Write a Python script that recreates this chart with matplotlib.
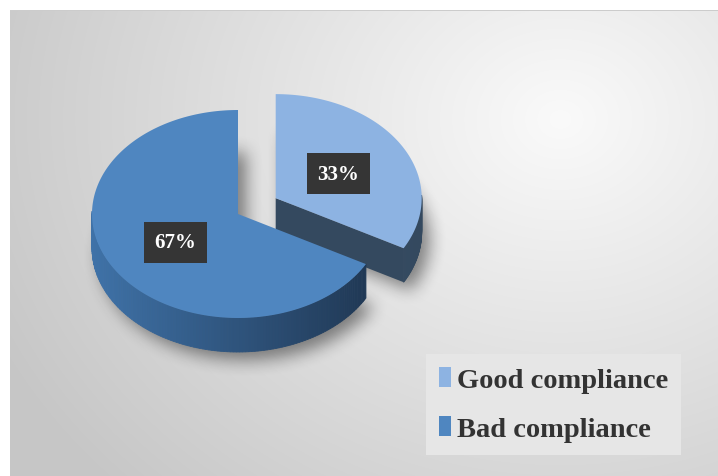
import numpy as np
import matplotlib.pyplot as plt
from matplotlib.patches import Polygon, Patch
from matplotlib.path import Path
from matplotlib.colors import to_rgb

# data
categories = ['Good compliance', 'Bad compliance']
shares = [33, 67]
labels = ['33%', '67%']
top_colors = ['#8db3e2', '#4f86c0']
side_dark = ['#34495f', '#1e3550']
side_light = ['#3e5670', '#3f72a8']

W, H = 718, 477
fig = plt.figure(figsize=(W / 100, H / 100), dpi=100)
ax = fig.add_axes([0, 0, 1, 1])
ax.set_xlim(0, W)
ax.set_ylim(H, 0)
ax.axis('off')

# background: white margin + grey radial gradient
yy, xx = np.mgrid[0:H, 0:W]
d = np.hypot((xx - 560) / 620, (yy - 120) / 520)
g = np.clip(0.98 - 0.2 * d, 0.78, 0.98)
bg = np.dstack([g, g, g])
bg[:11, :] = 1.0
bg[:, :10] = 1.0
bg[11, 10:] = 0.8
ax.imshow(bg, extent=[0, W, H, 0], zorder=0, interpolation='bilinear')

# pie geometry
cx, cy = 238, 215
a, b = 146, 104
depth = 34
explode = [0.3, 0.0]


def pt(x0, y0, th, r=1.0):
    return x0 + r * a * np.cos(th), y0 - r * b * np.sin(th)


def mix(c1, c2, t):
    c1, c2 = np.array(to_rgb(c1)), np.array(to_rgb(c2))
    return tuple(c1 + (c2 - c1) * t)


def blur(img, r):
    for axis in (0, 1):
        c = np.cumsum(np.pad(img, [(r + 1, r) if k == axis else (0, 0) for k in (0, 1)], mode='edge'), axis=axis)
        if axis == 0:
            img = (c[2 * r + 1:] - c[:-2 * r - 1]) / (2 * r + 1)
        else:
            img = (c[:, 2 * r + 1:] - c[:, :-2 * r - 1]) / (2 * r + 1)
    return img


total = sum(shares)
start = 90.0
slices = []
for s in shares:
    t1 = start
    t0 = start - 360.0 * s / total
    slices.append((t0, t1))
    start = t0

geo = []
for i, (t0, t1) in enumerate(slices):
    mid = np.radians((t0 + t1) / 2)
    x0 = cx + explode[i] * a * np.cos(mid)
    y0 = cy - explode[i] * b * np.sin(mid)
    th = np.radians(np.linspace(t0, t1, 200))
    geo.append((x0, y0, th, mid))

# soft shadow: blurred silhouette of the pie bottoms, shifted down-right
mask = np.zeros((H, W))
pts = np.column_stack([xx.ravel() + 0.5, yy.ravel() + 0.5])
for x0, y0, th, mid in geo:
    xs, ys = pt(x0, y0, th)
    poly = np.column_stack([np.r_[x0, xs], np.r_[y0, ys]]) + [8, depth + 8]
    mask = np.maximum(mask, Path(poly).contains_points(pts).reshape(H, W))
mask = blur(blur(mask, 9), 9)
shadow = np.zeros((H, W, 4))
shadow[..., 3] = mask * 0.45
ax.imshow(shadow, extent=[0, W, H, 0], zorder=1, interpolation='bilinear')

for i, (x0, y0, th, mid) in enumerate(geo):
    t0 = slices[i][0]
    z = 3 + i * 3

    # radial cut face at t0 (visible when facing the viewer)
    e = np.radians(t0)
    if np.cos(e) > 0 and np.sin(e) < 0:
        ex, ey = pt(x0, y0, e)
        face = [(x0, y0), (ex, ey), (ex, ey + depth), (x0, y0 + depth)]
        ax.add_patch(Polygon(face, closed=True, fc=side_dark[i], ec='none', zorder=z))

    # curved rim side, front half only
    for k in range(len(th) - 1):
        if np.sin(th[k]) > 0.02 and np.sin(th[k + 1]) > 0.02:
            continue
        p1 = pt(x0, y0, th[k])
        p2 = pt(x0, y0, th[k + 1])
        tt = (np.cos(th[k]) + 1) / 2
        c = mix(side_light[i], side_dark[i], tt)
        quad = [p1, p2, (p2[0], p2[1] + depth), (p1[0], p1[1] + depth)]
        ax.add_patch(Polygon(quad, closed=True, fc=c, ec=c, lw=0.6, zorder=z + 1))

    # top face
    xs, ys = pt(x0, y0, th)
    poly = np.column_stack([np.r_[x0, xs], np.r_[y0, ys]])
    ax.add_patch(Polygon(poly, closed=True, fc=top_colors[i], ec='none', zorder=z + 2))

    # label
    lx, ly = pt(x0, y0, mid, 0.5)
    ax.text(lx, ly + 2, labels[i], ha='center', va='center', color='white',
            fontsize=15, fontweight='bold', family='Liberation Serif', zorder=20,
            bbox=dict(boxstyle='square,pad=0.5', fc='#353535', ec='none'))

handles = [Patch(fc=c, ec='none') for c in top_colors]
leg = fig.legend(handles, categories, loc='lower right', bbox_to_anchor=(0.948, 0.045),
                 prop={'family': 'Liberation Serif', 'weight': 'bold', 'size': 20.5},
                 handlelength=0.42, handleheight=0.7, handletextpad=0.2,
                 labelspacing=0.8, borderpad=0.45, borderaxespad=0, frameon=True, fancybox=False)
leg.get_frame().set_facecolor('#e6e6e6')
leg.get_frame().set_edgecolor('none')
leg.get_frame().set_alpha(1)
for t in leg.get_texts():
    t.set_color('#333333')

fig.savefig('out.png', dpi=100)
